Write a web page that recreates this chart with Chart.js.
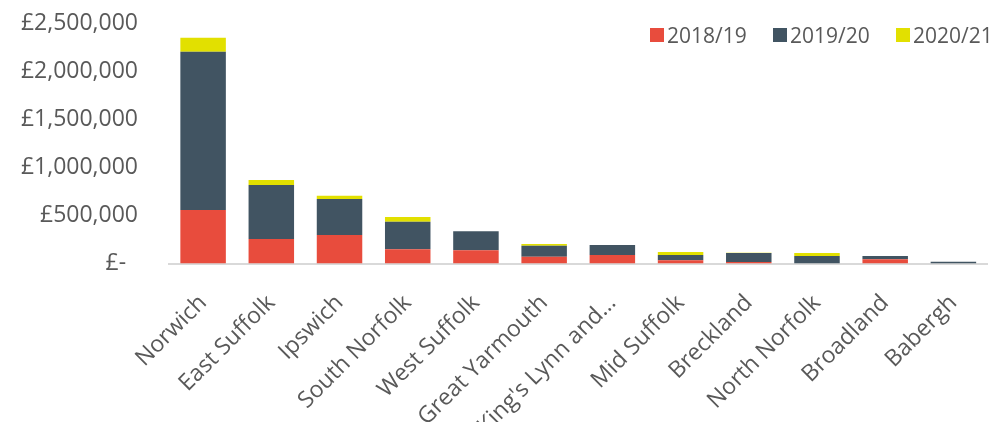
<!DOCTYPE html>
<html>
<head>
<meta charset="utf-8">
<script src="https://cdn.jsdelivr.net/npm/chart.js@4"></script>
<style>
  html, body { margin: 0; padding: 0; background: #ffffff; }
  #wrap { position: relative; width: 999px; height: 422px; overflow: hidden; }
  #legend { position: absolute; left: 650px; top: 21px; display: flex; font-family: "Open Sans", sans-serif; font-size: 21px; color: #595959; }
  .item { display: flex; align-items: center; width: 123px; white-space: nowrap; }
  .box { width: 14px; height: 14px; margin-right: 3px; }
</style>
</head>
<body>
<div id="wrap">
  <canvas id="c"></canvas>
  <div id="legend"></div>
</div>
<script>
const categories = ['Norwich', 'East Suffolk', 'Ipswich', 'South Norfolk', 'West Suffolk', 'Great Yarmouth', "King's Lynn and\u2026", 'Mid Suffolk', 'Breckland', 'North Norfolk', 'Broadland', 'Babergh'];
const seriesNames = ['2018/19', '2019/20', '2020/21'];
const values2018 = [556000, 255000, 296000, 148000, 137000, 71000, 88000, 34000, 15000, 0, 45000, 0];
const values2019 = [1646000, 561000, 374000, 286000, 198000, 114000, 104000, 55000, 94000, 78000, 33000, 19000];
const values2020 = [145000, 52000, 35000, 49000, 0, 18000, 0, 31000, 3000, 31000, 0, 0];
const yTicks = [0, 500000, 1000000, 1500000, 2000000, 2500000];

const colors = ['#E84C3D', '#415462', '#E2E000'];
const textColor = '#595959';
const fontFamily = '"Open Sans", sans-serif';

function fmt(v) {
  if (v === 0) return '\u00a3-\u00a0\u00a0';
  return '\u00a3' + String(Math.round(v)).replace(/\B(?=(\d{3})+(?!\d))/g, ',');
}

const allValues = [values2018, values2019, values2020];
const datasets = seriesNames.map((name, i) => ({
  label: name,
  data: allValues[i],
  backgroundColor: colors[i],
  borderWidth: 0,
  barPercentage: 0.667,
  categoryPercentage: 1.0
}));

const legend = document.getElementById('legend');
seriesNames.forEach((name, i) => {
  const it = document.createElement('div');
  it.className = 'item';
  const b = document.createElement('div');
  b.className = 'box';
  b.style.background = colors[i];
  const t = document.createElement('span');
  t.textContent = name;
  it.appendChild(b); it.appendChild(t);
  legend.appendChild(it);
});

new Chart(document.getElementById('c'), {
  type: 'bar',
  data: { labels: categories, datasets: datasets },
  options: {
    responsive: true,
    maintainAspectRatio: false,
    animation: false,
    layout: { padding: { left: 19, right: 2, top: 23, bottom: 0 } },
    plugins: { legend: { display: false }, tooltip: { enabled: false } },
    scales: {
      x: {
        stacked: true,
        grid: { display: false, drawTicks: false },
        border: { display: true, color: '#D9D9D9', width: 2 },
        ticks: {
          autoSkip: false,
          minRotation: 45,
          maxRotation: 45,
          padding: 26,
          color: textColor,
          font: { family: fontFamily, size: 23 }
        },
        afterFit: (s) => { s.height = 158.5; }
      },
      y: {
        stacked: true,
        min: 0,
        max: 2500000,
        afterBuildTicks: (s) => { s.ticks = yTicks.map(v => ({ value: v })); },
        grid: { display: false, drawTicks: false },
        border: { display: false },
        ticks: {
          padding: 31,
          color: textColor,
          font: { family: fontFamily, size: 23 },
          callback: (v) => fmt(v)
        },
        afterFit: (s) => { s.width = 150; s.paddingTop = 0; s.paddingBottom = 0; }
      }
    }
  }
});
</script>
</body>
</html>
